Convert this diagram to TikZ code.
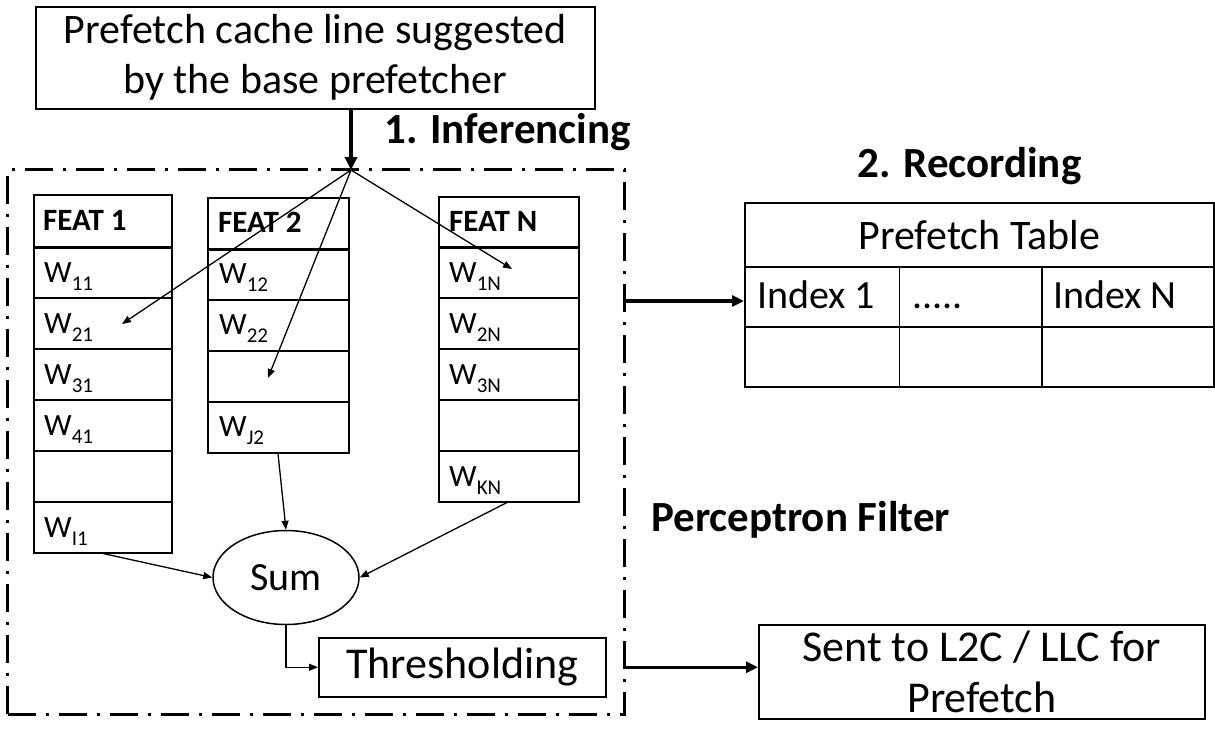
\documentclass[tikz,border=0pt]{standalone}
\usepackage{fontspec}
\setmainfont{Carlito}
\usetikzlibrary{arrows.meta,shapes.geometric}
\newcommand\wsub[1]{W\raisebox{-8pt}{\fontsize{21}{21}\selectfont #1}}
\begin{document}
\begin{tikzpicture}[x=1pt,y=-1pt,
  box/.style={draw, line width=1.5pt, inner sep=0pt, anchor=north west},
  cell/.style={draw, line width=1.5pt, inner sep=0pt, anchor=north west, minimum height=51pt},
  big/.style={font=\fontsize{42}{50}\selectfont},
  bigger/.style={font=\fontsize{44}{51}\selectfont},
  bigb/.style={anchor=base west, inner sep=0pt, font=\bfseries\fontsize{43}{50}\selectfont},
  tlab/.style={anchor=base west, inner sep=0pt, font=\fontsize{40}{48}\selectfont},
  wlab/.style={anchor=base west, inner sep=0pt, font=\fontsize{31}{31}\selectfont},
  hlab/.style={anchor=base west, inner sep=0pt, font=\bfseries\fontsize{31}{31}\selectfont},
  thinarrow/.style={line width=1.3pt, -{Triangle[length=9pt,width=7pt]}},
  thickarrow/.style={line width=3.5pt, -{Triangle[length=12pt,width=11pt]}},
]
\useasboundingbox (0,0) rectangle (1215,729);

% top box
\node[box, big, align=center, minimum width=559pt, minimum height=102pt] (top) at (35,6)
  {Prefetch cache line suggested\\by the base prefetcher};

% perceptron filter frame
\node[draw, line width=3pt, dash pattern=on 28pt off 10pt on 3pt off 10pt,
      minimum width=617pt, minimum height=545pt, anchor=north west, inner sep=0pt] (filter) at (6,168) {};

\coordinate (split) at (351,170);
\draw[line width=4pt, -{Triangle[length=13pt,width=12pt]}] (top.south -| split) -- (split);

\node[bigb] (inf) at (384,143) {1. Inferencing};
\node[bigb] (rec) at (857,177) {2. Recording};
\node[bigb] (pf) at (651,531) {Perceptron Filter};

% FEAT 1
\node[cell, minimum width=138pt, minimum height=52pt] (f1h) at (33,194) {};
\foreach \i in {1,...,6} \node[cell, minimum width=138pt] (f1r\i) at (33,{246+51*(\i-1)}) {};
\draw[line width=3pt] (f1h.south west) -- (f1h.south east);
\node[hlab] (f1t) at (43,230) {FEAT 1};
\node[wlab] (w11) at (44,282) {\wsub{11}};
\node[wlab] (w21) at (44,333) {\wsub{21}};
\node[wlab] (w31) at (44,384) {\wsub{31}};
\node[wlab] (w41) at (44,435) {\wsub{41}};
\node[wlab] (wi1) at (44,537) {\wsub{I1}};

% FEAT 2
\node[cell, minimum width=141pt, minimum height=51pt] (f2h) at (207,197) {};
\foreach \i in {1,...,4} \node[cell, minimum width=141pt] (f2r\i) at (207,{248+51*(\i-1)}) {};
\draw[line width=3pt] (f2h.south west) -- (f2h.south east);
\node[hlab] (f2t) at (218,232) {FEAT 2};
\node[wlab] (w12) at (219,283) {\wsub{12}};
\node[wlab] (w22) at (219,334) {\wsub{22}};
\node[wlab] (wj2) at (219,436) {\wsub{J2}};

% FEAT N
\node[cell, minimum width=140pt, minimum height=50pt] (fnh) at (438,196) {};
\foreach \i in {1,...,5} \node[cell, minimum width=140pt] (fnr\i) at (438,{246+51*(\i-1)}) {};
\draw[line width=3pt] (fnh.south west) -- (fnh.south east);
\node[hlab] (fnt) at (449,231) {FEAT N};
\node[wlab] (w1n) at (449,282) {\wsub{1N}};
\node[wlab] (w2n) at (449,333) {\wsub{2N}};
\node[wlab] (w3n) at (449,384) {\wsub{3N}};
\node[wlab] (wkn) at (449,486) {\wsub{KN}};

% split arrows
\coordinate (a1) at (122,324);
\coordinate (a2) at (268,378);
\coordinate (a3) at (512,269);
\draw[thinarrow] (split) -- (a1);
\draw[thinarrow] (split) -- (a2);
\draw[thinarrow] (split) -- (a3);

% sum and thresholding
\node[draw, ellipse, line width=1.5pt, inner sep=0pt, minimum width=146pt, minimum height=94pt, font=\fontsize{40}{48}\selectfont] (sum) at (286,577.5) {Sum};
\node[box, bigger, minimum width=287pt, minimum height=59pt] (thr) at (318,637) {Thresholding};

\draw[thinarrow] ([xshift=70pt]f1r6.south west) -- (sum.west);
\draw[thinarrow] ([xshift=71pt]f2r4.south west) -- (sum.north);
\draw[thinarrow] ([xshift=69pt]fnr5.south west) -- (sum.east);
\draw[thinarrow] (sum.south) |- (thr.west);

% prefetch table
\node[box, big, minimum width=469pt, minimum height=64pt] (ptab) at (744,202) {Prefetch Table};
\node[box, minimum width=154.7pt, minimum height=60pt] (idx1) at (744,266) {};
\node[box, minimum width=142.3pt, minimum height=60pt] (idxd) at (898.7,266) {};
\node[box, minimum width=172pt, minimum height=60pt] (idxn) at (1041,266) {};
\node[box, minimum width=154.7pt, minimum height=60pt] (b1) at (744,326) {};
\node[box, minimum width=142.3pt, minimum height=60pt] (b2) at (898.7,326) {};
\node[box, minimum width=172pt, minimum height=60pt] (b3) at (1041,326) {};
\node[tlab] (i1t) at (757,308) {Index 1};
\node[tlab] (idt) at (912,308) {.....};
\node[tlab] (int) at (1053,308) {Index N};

% sent box
\node[box, bigger, align=center, minimum width=446pt, minimum height=94pt] (sent) at (758,624)
  {Sent to L2C / LLC for\\Prefetch};

% output arrows
\draw[thickarrow] (filter.east |- 0,301) -- (idx1.west |- 0,301);
\draw[thickarrow] (filter.east |- thr.east) -- (sent.west |- thr.east);
\end{tikzpicture}
\end{document}
